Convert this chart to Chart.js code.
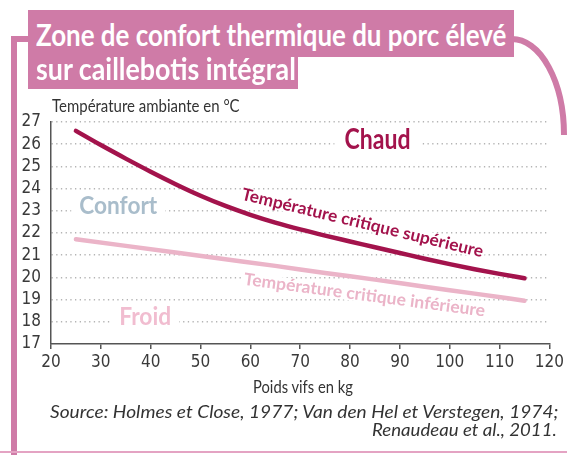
<!DOCTYPE html>
<html>
  <head>
    <meta charset="utf-8">
    <style>
      body {
        margin: 0;
        background: #fff;
      }
      .page {
        position: relative;
        width: 567px;
        height: 455px;
        overflow: hidden;
      }
      #chart {
        position: absolute;
        left: 0;
        top: 0;
      }
      .box {
        position: absolute;
        background: #cf7ba7;
      }
      .txt {
        position: absolute;
        white-space: nowrap;
        transform-origin: left top;
        font-family: Lato, 'Open Sans', sans-serif;
      }
      .title {
        color: #fff;
        font-weight: bold;
        font-size: 30px;
      }
      .axis {
        color: #333;
        font-size: 18px;
      }
      .source {
        color: #333;
        font-style: italic;
        font-size: 17px;
      }
    </style>
  </head>
  <body>
    <div class="page">
      <canvas id="chart" width="567" height="455"></canvas>
      <div class="box" style="left:28px; top:10px; width:486px; height:47px"></div>
      <div class="box" style="left:28px; top:56px; width:270px; height:33px"></div>
      <div class="txt title" data-x="36" data-base="46" data-w="470">Zone de confort thermique du porc élevé</div>
      <div class="txt title" data-x="36" data-base="80" data-w="260">sur caillebotis intégral</div>
      <div class="txt axis" data-x="52" data-base="112" data-w="188">Température ambiante en °C</div>
      <div class="txt axis" data-x="253" data-base="393" data-w="100">Poids vifs en kg</div>
      <div class="txt source" data-x="50" data-base="418" data-w="508">Source: Holmes et Close, 1977; Van den Hel et Verstegen, 1974;</div>
      <div class="txt source" data-x="372" data-base="436" data-w="185">Renaudeau et al., 2011.</div>
    </div>

    <script src="https://cdn.jsdelivr.net/npm/chart.js"></script>
    <script>
      // poids vifs (kg) et températures critiques (°C)
      const weights = [25, 30, 35, 40, 45, 50, 55, 60, 65, 70, 75, 80, 85, 90, 95, 100, 105, 110, 115];
      const upperCritical = [26.6, 25.96, 25.35, 24.76, 24.2, 23.68, 23.22, 22.82, 22.47, 22.16, 21.88, 21.62, 21.36, 21.1, 20.84, 20.6, 20.37, 20.16, 19.96];
      const lowerWeights = [25, 35, 45, 55, 65, 75, 85, 95, 105, 115];
      const lowerCritical = [21.72, 21.42, 21.12, 20.82, 20.52, 20.2, 19.9, 19.58, 19.27, 18.95];
      const xTickValues = [20, 30, 40, 50, 60, 70, 80, 90, 100, 110, 120];
      const yTickValues = [17, 18, 19, 20, 21, 22, 23, 24, 25, 26, 27];

      const PINK = '#cf7ba7';
      const DARK = '#a3134c';
      const LIGHT = '#ebb4c8';
      const tickFont = { family: "'Liberation Sans Narrow', 'DejaVu Sans Condensed', sans-serif", size: 17 };

      // textes dans la zone du graphique (positions en unités des axes)
      const zoneLabels = [
        { text: 'Chaud', x: 85.5, y: 26.2, angle: 0, size: 28, width: 66, color: DARK, pad: 10 },
        { text: 'Confort', x: 33.5, y: 23.2, angle: 0, size: 25, width: 78, color: '#a9bdcb', pad: 8 },
        { text: 'Froid', x: 38.9, y: 18.2, angle: 0, size: 25, width: 52, color: '#f1bdd0', pad: 8 },
        { text: 'Température critique supérieure', x: 82.5, y: 22.45, angle: 13.5, size: 17, width: 248, color: DARK, pad: 2 },
        { text: 'Température critique inférieure', x: 82.9, y: 19.2, angle: 7.5, size: 17, width: 243, color: LIGHT, pad: 2 },
      ];

      const framePlugin = {
        id: 'frame',
        beforeDraw(chart) {
          const ctx = chart.ctx;
          ctx.save();
          ctx.fillStyle = PINK;
          ctx.fillRect(11, 36, 6, 419);
          ctx.fillRect(11, 36, 18, 6);
          ctx.strokeStyle = PINK;
          ctx.lineWidth = 6;
          ctx.beginPath();
          ctx.ellipse(512, 135, 52, 96, 0, -Math.PI / 2, 0);
          ctx.stroke();
          ctx.fillStyle = '#e4a3c3';
          ctx.fillRect(0, 451, 567, 2);
          ctx.restore();
        },
      };

      const labelPlugin = {
        id: 'zoneLabels',
        beforeDatasetsDraw(chart) {
          const { ctx, scales } = chart;
          zoneLabels.forEach((l) => {
            ctx.save();
            ctx.translate(scales.x.getPixelForValue(l.x), scales.y.getPixelForValue(l.y));
            ctx.rotate((l.angle * Math.PI) / 180);
            ctx.font = `bold ${l.size}px Lato, 'Open Sans', sans-serif`;
            const w = ctx.measureText(l.text).width;
            ctx.fillStyle = '#fff';
            ctx.fillRect(-l.width / 2 - l.pad, -l.size * 0.42, l.width + 2 * l.pad, l.size * 0.84);
            ctx.scale(l.width / w, 1);
            ctx.textAlign = 'center';
            ctx.textBaseline = 'middle';
            ctx.fillStyle = l.color;
            ctx.fillText(l.text, 0, 0);
            ctx.restore();
          });
        },
      };

      const config = {
        type: 'line',
        data: {
          datasets: [
            {
              label: 'Température critique supérieure',
              data: weights.map((w, i) => ({ x: w, y: upperCritical[i] })),
              borderColor: DARK,
              borderWidth: 4.5,
              borderCapStyle: 'round',
              pointRadius: 0,
              cubicInterpolationMode: 'monotone',
            },
            {
              label: 'Température critique inférieure',
              data: lowerWeights.map((w, i) => ({ x: w, y: lowerCritical[i] })),
              borderColor: LIGHT,
              borderWidth: 4.5,
              borderCapStyle: 'round',
              pointRadius: 0,
              cubicInterpolationMode: 'monotone',
            },
          ],
        },
        options: {
          responsive: false,
          animation: false,
          layout: { padding: { top: 122, right: 14, left: 0, bottom: 0 } },
          plugins: { legend: { display: false }, tooltip: { enabled: false } },
          scales: {
            x: {
              type: 'linear',
              min: 20,
              max: 120,
              afterBuildTicks: (s) => { s.ticks = xTickValues.map((v) => ({ value: v })); },
              afterFit: (s) => { s.height = 111; },
              ticks: { font: tickFont, color: '#3a3a3a', padding: 3, maxRotation: 0, autoSkip: false },
              grid: { drawOnChartArea: false, color: '#555', tickLength: 5, lineWidth: 1.5 },
              border: { color: '#555', width: 1.5 },
            },
            y: {
              min: 17,
              max: 27,
              afterBuildTicks: (s) => { s.ticks = yTickValues.map((v) => ({ value: v })); },
              afterFit: (s) => { s.width = 51; },
              ticks: { font: tickFont, color: '#3a3a3a', padding: 10, autoSkip: false },
              grid: {
                drawTicks: false,
                lineWidth: 1.5,
                color: (c) => (c.tick && c.tick.value === 17 ? 'rgba(0,0,0,0)' : '#b4b4b4'),
              },
              border: { color: '#555', width: 1.5, dash: [1.3, 3.4] },
            },
          },
        },
        plugins: [framePlugin, labelPlugin],
      };

      new Chart(document.getElementById('chart'), config);

      // place les textes HTML sur leur ligne de base et à la bonne largeur
      const measure = document.createElement('canvas').getContext('2d');
      document.querySelectorAll('.txt').forEach((el) => {
        const cs = getComputedStyle(el);
        const size = parseFloat(cs.fontSize);
        measure.font = `${cs.fontStyle} ${cs.fontWeight} ${cs.fontSize} ${cs.fontFamily}`;
        const m = measure.measureText(el.textContent);
        const a = m.fontBoundingBoxAscent;
        const d = m.fontBoundingBoxDescent;
        el.style.lineHeight = size + 'px';
        el.style.top = (+el.dataset.base - ((size - (a + d)) / 2 + a)) + 'px';
        el.style.left = el.dataset.x + 'px';
        el.style.transform = `scaleX(${+el.dataset.w / el.offsetWidth})`;
      });
    </script>
  </body>
</html>
